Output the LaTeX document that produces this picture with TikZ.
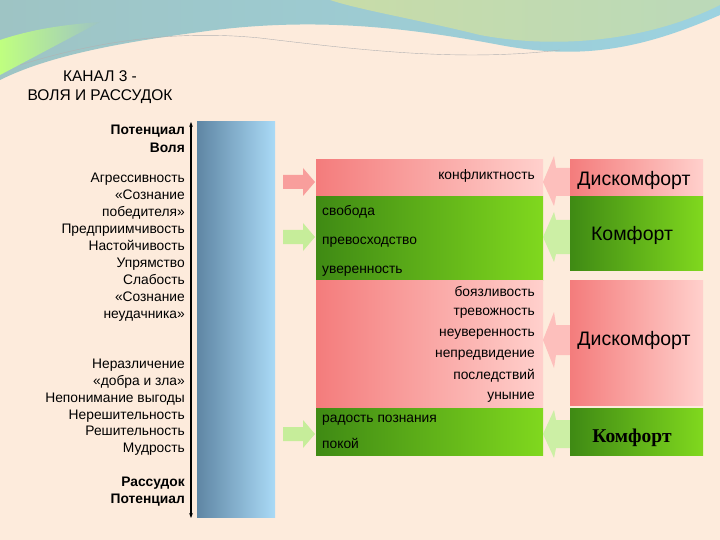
\documentclass[tikz,border=0pt]{standalone}
\usepackage{fontspec}
\setmainfont{Liberation Sans}
\newfontfamily\serifb{Liberation Serif}
\usetikzlibrary{arrows.meta}
\definecolor{bg}{HTML}{FDEBDC}
\definecolor{pinkL}{HTML}{F47C7C}
\definecolor{pinkR}{HTML}{FFD0CC}
\definecolor{greenL}{HTML}{3F8A14}
\definecolor{greenR}{HTML}{80D81E}
\definecolor{barL}{HTML}{5F86A4}
\definecolor{barR}{HTML}{AADAF6}
\definecolor{waveA}{HTML}{9EC4C4}
\definecolor{waveB}{HTML}{C8DCA8}
\definecolor{waveC}{HTML}{9CD2E0}
\tikzset{
  lbl/.style={font=\fontsize{13.8}{17}\selectfont, inner sep=0pt},
  lblb/.style={font=\fontsize{13.8}{17}\selectfont\bfseries, inner sep=0pt},
  pinkband/.style={left color=pinkL, right color=pinkR, draw=none},
  greenband/.style={left color=greenL, right color=greenR, draw=none},
  big/.style={font=\fontsize{19.5}{22}\selectfont, inner sep=0pt}
}
\begin{document}
\begin{tikzpicture}[x=1pt,y=-1pt]
\fill[bg] (0,0) rectangle (720,540);
\useasboundingbox (0,0) rectangle (720,540);
% top wave
\shade[left color=waveA, right color=waveC]
  (0,0) -- (720,0) -- (720,15) .. controls (640,50) and (580,60) .. (500,45)
  .. controls (420,30) and (320,15) .. (200,32) .. controls (100,45) and (40,60) .. (0,80) -- cycle;
\shade[left color=waveB, right color=waveB!70!waveC]
  (330,0) -- (720,0) -- (720,5) .. controls (650,40) and (560,50) .. (480,35) .. controls (420,20) and (360,10) .. (330,0) -- cycle;
\shade[left color=green!50!yellow!50!white, right color=waveA]
  (0,40) .. controls (30,30) and (60,25) .. (100,22) -- (0,75) -- cycle;
\draw[gray!60, thin] (20,65) .. controls (100,40) and (180,30) .. (260,38) .. controls (360,50) and (460,62) .. (560,50);
% title
\node[lbl, align=center, font=\fontsize{15.5}{19}\selectfont] (title) at (100,87) {КАНАЛ 3 -\\ВОЛЯ И РАССУДОК};
% left column
\node[lblb, anchor=east] (p1) at (185,131) {Потенциал};
\node[lblb, anchor=east] (v1) at (185,148) {Воля};
\node[lbl, anchor=north east, align=right] (list1) at (185,173)
 {Агрессивность\\«Сознание\\победителя»\\Предприимчивость\\Настойчивость\\Упрямство\\Слабость\\«Сознание\\неудачника»};
\node[lbl, anchor=north east, align=right, font=\fontsize{13.8}{16.8}\selectfont] (list2) at (185,359)
 {Неразличение\\«добра и зла»\\Непонимание выгоды\\Нерешительность\\Решительность\\Мудрость};
\node[lblb, anchor=east] (r1) at (185,483) {Рассудок};
\node[lblb, anchor=east] (p2) at (185,500) {Потенциал};
% axis
\coordinate (top) at (191,122);
\coordinate (bot) at (191,518);
\draw[{Stealth[length=5pt]}-{Stealth[length=5pt]}, line width=1.3pt] (bot) -- (top);
% bar
\shade[left color=barL, right color=barR] (197,122) rectangle (275,517);
% middle bands
\shade[pinkband] (316,160) rectangle (543,197);
\shade[greenband] (316,197) rectangle (543,280);
\shade[pinkband] (316,280) rectangle (543,408);
\shade[greenband] (316,408) rectangle (543,455);
\node[lbl, anchor=east] (k1) at (535,176) {конфликтность};
\node[lbl, anchor=west] (g1) at (322,212) {свобода};
\node[lbl, anchor=west] (g2) at (322,242) {превосходство};
\node[lbl, anchor=west] (g3) at (322,271) {уверенность};
\node[lbl, anchor=east] (b1) at (535,292) {боязливость};
\node[lbl, anchor=east] (b2) at (535,313) {тревожность};
\node[lbl, anchor=east] (b3) at (535,334) {неуверенность};
\node[lbl, anchor=east] (b4) at (535,355) {непредвидение};
\node[lbl, anchor=east] (b5) at (535,376) {последствий};
\node[lbl, anchor=east] (b6) at (535,397) {уныние};
\node[lbl, anchor=west] (r2) at (322,420) {радость познания};
\node[lbl, anchor=west] (r3) at (322,443) {покой};
% right arrows (into bands)
\fill[pinkL!60!pinkR] (283,175) -- (303,175) -- (303,168) -- (315,182) -- (303,196) -- (303,189) -- (283,189) -- cycle;
\fill[greenR!45!white] (283,230) -- (303,230) -- (303,223) -- (315,237) -- (303,251) -- (303,244) -- (283,244) -- cycle;
\fill[greenR!45!white] (283,427) -- (303,427) -- (303,420) -- (315,434) -- (303,448) -- (303,441) -- (283,441) -- cycle;
% left arrows
\fill[pinkR!80!pinkL] (570,168) -- (556,168) -- (554,156) -- (543,182) -- (554,206) -- (556,196) -- (570,196) -- cycle;
\fill[greenR!40!white] (570,220) -- (556,220) -- (554,212) -- (543,237) -- (554,262) -- (556,254) -- (570,254) -- cycle;
\fill[pinkR!80!pinkL] (570,325) -- (556,325) -- (554,312) -- (543,340) -- (554,368) -- (556,355) -- (570,355) -- cycle;
\fill[greenR!40!white] (570,420) -- (556,420) -- (554,410) -- (543,434) -- (554,458) -- (556,448) -- (570,448) -- cycle;
% right boxes
\shade[pinkband] (570,160) rectangle (703,197);
\shade[greenband] (570,197) rectangle (703,270);
\shade[pinkband] (570,280) rectangle (703,405);
\shade[greenband] (570,408) rectangle (703,455);
\node[big] (d1) at (634,180) {Дискомфорт};
\node[big] (c1) at (632,235) {Комфорт};
\node[big] (d2) at (634,340) {Дискомфорт};
\node[big, font=\fontsize{19.5}{22}\selectfont\serifb\bfseries] (c2) at (632,438) {Комфорт};
\end{tikzpicture}
\end{document}
